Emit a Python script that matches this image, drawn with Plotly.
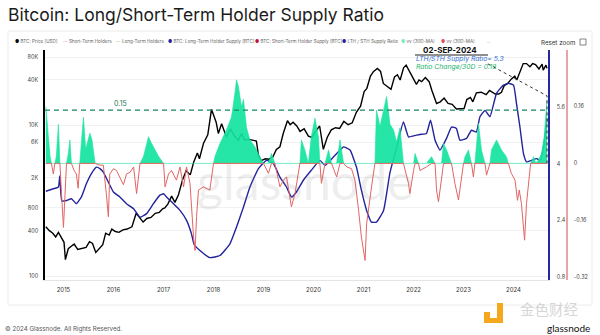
import numpy as np
import pandas as pd
import plotly.graph_objects as go

# ---------------- data ----------------
price_dates = ["2014-08-25","2014-09-20","2014-10-15","2014-11-05","2014-11-25","2014-12-15","2015-01-05","2015-01-15",
    "2015-02-05","2015-03-01","2015-03-20","2015-04-15","2015-05-15","2015-06-15","2015-07-10","2015-08-01","2015-08-25",
    "2015-09-20","2015-10-15","2015-11-05","2015-12-01","2015-12-20","2016-01-15","2016-02-10","2016-03-10","2016-04-10",
    "2016-05-15","2016-06-15","2016-07-10","2016-08-05","2016-09-01","2016-10-01","2016-11-01","2016-12-01","2016-12-25",
    "2017-01-10","2017-02-01","2017-03-01","2017-03-25","2017-04-20","2017-05-20","2017-06-15","2017-07-15","2017-08-10",
    "2017-09-05","2017-09-20","2017-10-20","2017-11-20","2017-12-17","2018-01-05","2018-01-20","2018-02-05","2018-03-01",
    "2018-04-05","2018-05-05","2018-06-01","2018-07-01","2018-07-25","2018-08-15","2018-09-15","2018-10-15","2018-11-10",
    "2018-11-25","2018-12-15","2019-01-15","2019-02-10","2019-03-10","2019-04-05","2019-05-01","2019-05-25","2019-06-25",
    "2019-07-15","2019-08-05","2019-09-01","2019-09-25","2019-10-25","2019-11-25","2019-12-20","2020-01-20","2020-02-15",
    "2020-03-13","2020-04-10","2020-05-10","2020-06-10","2020-07-10","2020-08-10","2020-09-10","2020-10-10","2020-11-10",
    "2020-12-10","2021-01-05","2021-01-25","2021-02-20","2021-03-15","2021-04-12","2021-05-05","2021-05-25","2021-06-20",
    "2021-07-20","2021-08-15","2021-09-05","2021-09-25","2021-10-20","2021-11-08","2021-11-28","2021-12-20","2022-01-22",
    "2022-02-10","2022-03-01","2022-03-28","2022-04-25","2022-05-15","2022-06-18","2022-07-15","2022-08-12","2022-09-10",
    "2022-10-10","2022-11-10","2022-12-15","2023-01-05","2023-01-25","2023-02-20","2023-03-10","2023-04-05","2023-05-10",
    "2023-06-15","2023-07-10","2023-08-20","2023-09-15","2023-10-05","2023-10-25","2023-11-20","2023-12-15","2024-01-10",
    "2024-01-25","2024-02-15","2024-03-12","2024-04-05","2024-04-30","2024-05-20","2024-06-10","2024-07-05","2024-07-28",
    "2024-08-05","2024-08-25","2024-09-02"]
price_usd = [450,400,370,330,380,320,280,165,
    230,250,265,225,230,240,285,270,205,
    235,260,370,350,420,390,380,410,420,
    450,680,600,520,580,600,680,700,780,
    800,900,1150,950,1200,1900,2500,2200,3300,
    4300,3600,5800,7500,16300,13500,11000,7800,10500,
    7000,9000,7300,6300,7800,6400,6500,6300,6200,
    4000,3400,3600,3550,3800,4800,5200,7800,11500,
    10200,11000,9800,8300,9000,7200,6900,8500,9800,
    4800,6900,8700,9300,9100,11300,10200,10800,15000,
    18000,28000,31000,45000,52000,57000,52000,36000,33000,
    30000,44000,47000,40000,58000,63000,54000,46000,35000,
    40000,38000,43000,38000,29000,19500,20500,23000,19500,
    19000,16500,16800,16700,22000,23500,20500,27000,27500,
    25500,29000,26000,26000,27500,33500,36000,41000,45000,
    40000,50000,66000,66000,60000,66000,64000,56000,65000,
    54000,63000,57000]

ratio_dates = ["2014-08-25","2014-10-19","2014-11-25","2014-12-05","2014-12-20","2015-01-23","2015-02-28","2015-04-05",
    "2015-05-12","2015-06-18","2015-07-24","2015-08-30","2015-09-24","2015-10-19","2016-01-01","2016-02-17","2016-04-05",
    "2016-05-27","2016-07-13","2016-08-30","2016-10-19","2016-12-05","2017-01-01","2017-01-23","2017-03-14","2017-05-01",
    "2017-06-18","2017-07-24","2017-08-12","2017-09-24","2017-12-05","2018-02-17","2018-05-01","2018-06-18","2018-08-08",
    "2018-09-24","2018-11-25","2019-01-23","2019-03-14","2019-05-01","2019-06-18","2019-07-24","2019-08-30","2019-10-19",
    "2019-12-16","2020-02-17","2020-03-25","2020-05-27","2020-07-13","2020-08-08","2020-09-24","2020-11-10","2020-12-16",
    "2021-01-23","2021-02-28","2021-04-05","2021-05-27","2021-07-13","2021-08-30","2021-10-19","2021-11-25","2022-01-01",
    "2022-02-17","2022-04-05","2022-05-05","2022-06-07","2022-07-13","2022-08-30","2022-10-05","2022-11-10","2022-12-05",
    "2023-01-23","2023-02-28","2023-04-05","2023-05-01","2023-06-07","2023-07-13","2023-08-30","2023-10-19","2023-11-25",
    "2024-01-01","2024-01-23","2024-02-17","2024-03-14","2024-04-05","2024-05-12","2024-06-18","2024-07-13","2024-08-08",
    "2024-09-02"]
lth_sth_ratio = [3.22,3.29,3.34,3.65,2.95,2.96,3.01,2.87,
    3.06,3.44,3.72,3.90,3.86,3.76,3.20,3.06,2.87,
    2.73,2.49,2.59,2.87,3.11,3.15,3.06,2.87,2.68,
    2.40,2.02,1.72,1.55,1.35,1.41,1.74,2.21,2.78,
    3.34,3.86,4.09,4.00,3.62,3.34,3.06,3.20,3.53,
    3.81,4.09,3.95,4.19,4.38,4.47,4.38,3.90,3.25,
    2.68,2.35,2.35,2.68,3.75,4.45,5.17,4.75,4.78,
    4.82,4.85,5.22,4.66,4.38,4.71,5.03,4.99,4.66,
    4.71,4.94,4.89,5.32,5.50,5.32,5.98,6.21,6.26,
    6.21,5.69,5.03,4.28,4.05,4.09,4.14,4.09,4.47,
    5.27]

change_dates = ["2014-08-25","2014-09-05","2014-09-25","2014-10-05","2014-10-19","2014-10-30","2014-11-10","2014-11-25",
    "2014-12-06","2014-12-16","2015-01-01","2015-01-12","2015-01-23","2015-02-06","2015-02-17","2015-02-28","2015-03-20",
    "2015-04-05","2015-04-18","2015-04-30","2015-05-12","2015-05-27","2015-06-12","2015-06-25","2015-07-13","2015-07-28",
    "2015-08-20","2015-09-24","2015-10-19","2015-11-10","2015-11-25","2015-12-05","2016-01-01","2016-01-23","2016-02-17",
    "2016-03-14","2016-04-05","2016-05-01","2016-05-27","2016-06-18","2016-07-13","2016-08-08","2016-09-13","2016-09-30",
    "2016-10-19","2016-11-25","2017-01-01","2017-01-12","2017-02-06","2017-02-28","2017-04-05","2017-05-01","2017-05-27",
    "2017-06-18","2017-07-13","2017-08-08","2017-08-19","2017-08-30","2017-09-13","2017-10-19","2017-12-05","2018-01-01",
    "2018-01-12","2018-02-17","2018-04-05","2018-05-12","2018-06-07","2018-06-18","2018-07-02","2018-07-24","2018-08-08",
    "2018-08-30","2018-09-24","2018-10-30","2018-12-05","2019-01-01","2019-02-06","2019-02-28","2019-03-25","2019-05-01",
    "2019-05-27","2019-06-18","2019-07-24","2019-08-19","2019-09-24","2019-10-05","2019-10-30","2019-11-25","2019-12-16",
    "2020-01-12","2020-02-06","2020-02-17","2020-02-28","2020-03-25","2020-04-20","2020-05-12","2020-06-18","2020-07-13",
    "2020-08-08","2020-09-01","2020-10-05","2020-10-30","2020-11-25","2020-12-16","2021-01-12","2021-01-23","2021-02-28",
    "2021-03-25","2021-04-05","2021-05-01","2021-06-18","2021-07-13","2021-08-08","2021-08-30","2021-09-24","2021-10-19",
    "2021-11-25","2021-12-05","2022-01-01","2022-01-12","2022-02-06","2022-02-17","2022-04-05","2022-05-12","2022-06-07",
    "2022-06-18","2022-07-02","2022-07-24","2022-08-08","2022-08-30","2022-10-05","2022-10-30","2022-11-25","2022-12-05",
    "2023-01-01","2023-01-12","2023-02-06","2023-02-28","2023-03-14","2023-03-25","2023-04-20","2023-05-12","2023-06-07",
    "2023-06-18","2023-07-13","2023-07-24","2023-08-30","2023-10-05","2023-11-10","2023-11-25","2023-12-16","2024-01-12",
    "2024-01-30","2024-02-12","2024-02-28","2024-03-22","2024-04-05","2024-04-27","2024-05-05","2024-05-27","2024-06-12",
    "2024-07-02","2024-07-24","2024-08-12","2024-08-22","2024-09-02"]
ratio_change_30d = [0.16,0.10,0.02,0.0,-0.03,0.0,0.02,0.11,
    0.0,-0.075,-0.18,-0.09,0.0,0.03,0.066,0.0,-0.02,
    -0.03,-0.07,0.0,0.06,0.13,0.04,0.06,0.085,0.066,
    0.0,-0.005,-0.005,-0.085,-0.15,-0.03,-0.015,-0.02,-0.04,
    -0.06,-0.03,-0.025,-0.01,-0.085,0.0,0.02,0.075,0.06,
    0.047,0.02,0.0,-0.066,-0.03,-0.02,-0.047,-0.01,-0.066,
    -0.01,-0.056,-0.207,-0.245,-0.15,-0.075,-0.066,-0.075,0.0,
    0.02,0.056,0.094,0.13,0.2,0.235,0.216,0.16,0.18,
    0.10,0.066,0.047,0.019,0.0,-0.028,0.028,0.0,-0.066,
    -0.047,-0.038,-0.122,-0.085,0.0,0.066,0.038,0.0,0.075,
    0.127,0.075,0.0,-0.056,0.0,0.038,0.0,-0.038,0.066,
    0.0,-0.01,-0.015,-0.047,-0.13,-0.207,-0.273,-0.17,-0.066,
    0.0,0.15,0.104,0.188,0.11,0.094,0.06,0.10,0.0,
    -0.056,-0.085,-0.02,0.028,0.0,-0.02,-0.01,0.019,0.0,
    -0.075,-0.108,-0.038,0.056,0.038,0.0,-0.056,-0.103,-0.075,
    0.0,0.019,0.038,0.0,-0.038,0.0,0.113,0.038,0.0,
    -0.033,0.0,0.038,0.066,0.038,0.019,0.0,-0.028,-0.047,
    -0.104,-0.075,-0.113,-0.216,-0.113,-0.02,0.0,0.019,0.0,
    0.01,0.028,0.075,0.14,0.18]

year_ticks = [f"{y}-01-01" for y in range(2015, 2025)]
year_labels = [str(y) for y in range(2015, 2025)]
price_tickvals = [100, 400, 800, 2000, 6000, 10000, 40000, 80000]
price_ticktext = ["100", "400", "800", "2K", "6K", "10K", "40K", "80K"]
ratio_tickvals = [0.8, 2.4, 4, 5.6]
change_tickvals = [-0.32, -0.16, 0, 0.16]
change_ticktext = ["-0.32", "-0.16", "0", "0.16"]
threshold = 0.15
last_date = "2024-09-02"
last_ratio = 5.3
last_change = 0.19
callout_date = "2023-06-28"
callout_level = 0.28

# ---------------- figure ----------------
W, H = 600, 335
ML, MR, MT, MB = 45, 10, 50, 55
PW = W - ML - MR
PH = H - MT - MB
XEND = 503 / PW


def xp(px):
    return (px - ML) / PW


def yp(py):
    return (H - MB - py) / PH


chg = np.array(ratio_change_30d)
cd = pd.to_datetime(change_dates)

fig = go.Figure()
fig.add_trace(go.Scatter(x=cd, y=np.maximum(chg, 0), yaxis="y3", mode="lines",
                         line=dict(width=0.6, color="#19e3a0"), fill="tozeroy",
                         fillcolor="rgba(18,228,158,0.92)", hoverinfo="skip"))
fig.add_trace(go.Scatter(x=cd, y=np.minimum(chg, 0), yaxis="y3", mode="lines",
                         line=dict(width=1.0, color="#e36464")))
fig.add_trace(go.Scatter(x=pd.to_datetime(ratio_dates), y=lth_sth_ratio, yaxis="y2", mode="lines",
                         line=dict(width=1.4, color="#22229c", shape="spline", smoothing=0.4)))
fig.add_trace(go.Scatter(x=pd.to_datetime(price_dates), y=price_usd, yaxis="y", mode="lines",
                         line=dict(width=1.4, color="#000000")))

tick_font = dict(family="Inter, Roboto, sans-serif", size=5.5, color="#444")

fig.update_layout(
    width=W, height=H,
    margin=dict(l=ML, r=MR, t=MT, b=MB, pad=0),
    paper_bgcolor="white", plot_bgcolor="white",
    showlegend=False,
    font=dict(family="Inter, Roboto, sans-serif"),
    xaxis=dict(domain=[0, XEND], type="date", range=["2014-08-19", "2024-09-09"],
               tickvals=year_ticks, ticktext=year_labels, showgrid=False,
               showline=True, linecolor="#e4e4e4", linewidth=1, ticks="",
               tickfont=dict(family="Inter, Roboto, sans-serif", size=6, color="#333"),
               ticklabelstandoff=4, zeroline=False),
    yaxis=dict(type="log", range=[1.947, 5.0], tickvals=price_tickvals, ticktext=price_ticktext,
               showline=True, linecolor="#000", linewidth=1.5, gridcolor="#f1f1f1", gridwidth=1,
               ticks="", tickfont=tick_font, ticklabelstandoff=4, zeroline=False),
    yaxis2=dict(overlaying="y", side="right", anchor="x", range=[0.72, 7.2],
                tickvals=ratio_tickvals, showline=True, linecolor="#26269e", linewidth=1.5,
                showgrid=False, zeroline=False, ticks="", tickfont=tick_font, ticklabelstandoff=6),
    yaxis3=dict(overlaying="y", side="right", anchor="free", position=xp(567),
                range=[-0.328, 0.319], tickvals=change_tickvals, ticktext=change_ticktext,
                showline=True, linecolor="#eaa3a3", linewidth=1.5, showgrid=False,
                zeroline=False, ticks="", tickfont=tick_font, ticklabelstandoff=5),
)

shapes = []
# card frame
shapes.append(dict(type="rect", xref="paper", yref="paper", x0=xp(8), x1=xp(592), y0=yp(305), y1=yp(31),
                   line=dict(color="#ececec", width=1), fillcolor="rgba(0,0,0,0)", layer="below"))
# threshold dashed line
shapes.append(dict(type="line", xref="paper", yref="y3", x0=0, x1=XEND, y0=threshold, y1=threshold,
                   line=dict(color="#17875c", width=1.3, dash="5px,4px")))
# callout lines
shapes.append(dict(type="line", xref="x", yref="y3", x0=last_date, x1=last_date, y0=0, y1=last_change,
                   line=dict(color="#333", width=1, dash="dot")))
shapes.append(dict(type="line", xref="x", yref="y3", x0=callout_date, x1=last_date, y0=callout_level,
                   y1=last_change, line=dict(color="#333", width=1, dash="dot")))
shapes.append(dict(type="line", xref="paper", yref="paper", x0=xp(415), x1=xp(488), y0=yp(55), y1=yp(55),
                   line=dict(color="#222", width=1)))
# reset-zoom icon box
shapes.append(dict(type="rect", xref="paper", yref="paper", x0=xp(580), x1=xp(586), y0=yp(45), y1=yp(39),
                   line=dict(color="#666", width=0.8)))
# orange logo marks
orange = "#f5a81c"
shapes.append(dict(type="rect", xref="paper", yref="paper", x0=xp(484), x1=xp(490), y0=yp(318), y1=yp(312),
                   line=dict(width=0), fillcolor=orange))
shapes.append(dict(type="rect", xref="paper", yref="paper", x0=xp(497), x1=xp(503), y0=yp(323), y1=yp(303),
                   line=dict(width=0), fillcolor=orange))
shapes.append(dict(type="rect", xref="paper", yref="paper", x0=xp(484), x1=xp(503), y0=yp(323), y1=yp(318),
                   line=dict(width=0), fillcolor=orange))
fig.update_layout(shapes=shapes)

ann = []


def txt(text, px, py, size, color="#333", xanchor="left", family="Inter, Roboto, sans-serif", **kw):
    ann.append(dict(text=text, xref="paper", yref="paper", x=xp(px), y=yp(py), xanchor=xanchor,
                    yanchor="middle", showarrow=False, font=dict(size=size, color=color, family=family),
                    borderpad=0, **kw))


txt("Bitcoin: Long/Short-Term Holder Supply Ratio", 7, 14, 17.5, "#1b1b1b")

# legend row
legend_items = [
    ("●", "#000000", "BTC: Price [USD]", 14),
    ("—", "#f0a0a0", "Short-Term Holders", 62),
    ("—", "#b0b0b0", "Long-Term Holders", 115),
    ("●", "#22229c", "BTC: Long-Term Holder Supply [BTC]", 167),
    ("●", "#c0103a", "BTC: Short-Term Holder Supply [BTC]", 254),
    ("●", "#22229c", "LTH / STH Supply Ratio", 341),
    ("●", "#7ee8c0", "vv (30D-MA)", 400),
    ("●", "#e05060", "vv (30D-MA)", 440),
]
for sym, col, label, px in legend_items:
    txt(f"<span style='color:{col}'>{sym}</span> {label}", px, 41.5, 4.6, "#666")
txt("··", 486, 41.5, 5, "#777")
txt("Reset zoom", 540, 42.5, 6.2, "#333")

# threshold label
txt("0.15", 120, 103, 7, "#1e7a55", xanchor="center")

# callout text
txt("<b>02-SEP-2024</b>", 450, 50, 8, "#111", xanchor="center")
txt(f"<i>LTH/STH Supply Ratio= {last_ratio}</i>", 415, 58.5, 6.8, "#2f6bd1")
txt(f"<i>Ratio Change/30D = {last_change}</i>", 415, 66.5, 6.8, "#25b36d")

# watermarks and footer
txt("glassnode", 305, 181, 50, "rgba(120,120,120,0.13)", xanchor="center", family="Lato, sans-serif")
txt("© 2024 Glassnode. All Rights Reserved.", 4, 329, 6.2, "#555")
txt("金色财经", 549, 308.5, 14.5, "#d6d6d6", xanchor="center", family="Noto Sans CJK SC")
txt("glassnode", 568, 327.5, 10, "#111", xanchor="center", family="Lato, sans-serif")

fig.update_layout(annotations=ann)

fig.write_html("out.html")
